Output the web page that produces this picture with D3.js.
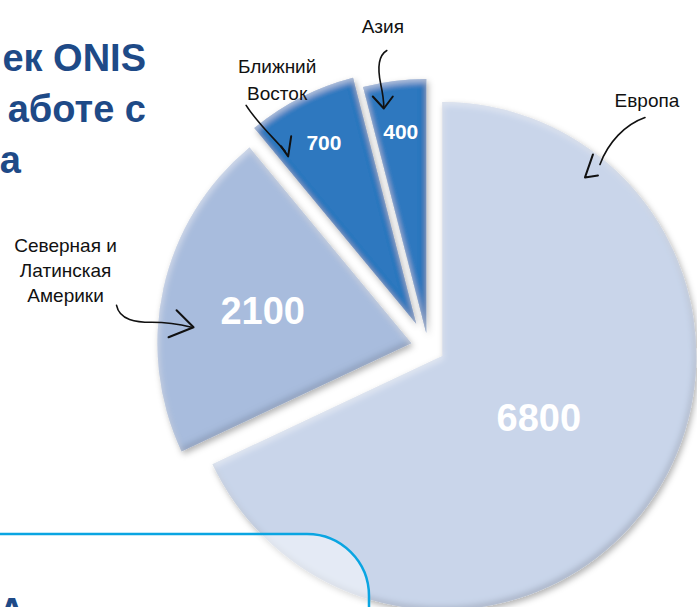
<!DOCTYPE html>
<html>
<head>
<meta charset="utf-8">
<script src="https://cdn.jsdelivr.net/npm/d3@7"></script>
<style>
  body { margin: 0; background: #fff; }
  svg { display: block; font-family: "Liberation Sans", Arial, sans-serif; }
</style>
</head>
<body>
<svg width="697" height="607"></svg>
<script>
// данные
var regions = ["Европа", "Северная и Латинская Америки", "Ближний Восток", "Азия"];
var values = [6800, 2100, 700, 400];
var labelLines = [["Европа"], ["Северная и", "Латинская", "Америки"], ["Ближний", "Восток"], ["Азия"]];
var titleLines = ["ек ONIS", "аботе с", "а"];

// оформление
var colors = ["#c9d5ea", "#a8bcdd", "#2f78bf", "#2f78bf"];
var explode = [17, 17, 26, 14];
var valueRadius = [0.45, 0.6, 0.8, 0.8];
var valueSize = [38, 38, 21, 21];
var cx = 428, cy = 347, R = 254;

var svg = d3.select("svg");
var defs = svg.append("defs");

// тень + фаска для секторов
var f = defs.append("filter").attr("id", "slice")
  .attr("x", "-20%").attr("y", "-20%").attr("width", "140%").attr("height", "140%");
f.append("feGaussianBlur").attr("in", "SourceAlpha").attr("stdDeviation", 3).attr("result", "b");
f.append("feOffset").attr("in", "b").attr("dx", -2).attr("dy", -3).attr("result", "o1");
f.append("feComposite").attr("in", "SourceAlpha").attr("in2", "o1").attr("operator", "out").attr("result", "in1");
f.append("feFlood").attr("flood-color", "#1a2a4a").attr("flood-opacity", 0.35);
f.append("feComposite").attr("in2", "in1").attr("operator", "in").attr("result", "dark");
f.append("feOffset").attr("in", "b").attr("dx", 1).attr("dy", 3).attr("result", "o2");
f.append("feComposite").attr("in", "SourceAlpha").attr("in2", "o2").attr("operator", "out").attr("result", "in2");
f.append("feFlood").attr("flood-color", "#ffffff").attr("flood-opacity", 0.45);
f.append("feComposite").attr("in2", "in2").attr("operator", "in").attr("result", "light");
f.append("feOffset").attr("in", "b").attr("dx", 2).attr("dy", 3).attr("result", "o3");
f.append("feFlood").attr("flood-color", "#000").attr("flood-opacity", 0.3);
f.append("feComposite").attr("in2", "o3").attr("operator", "in").attr("result", "drop");
var m = f.append("feMerge");
["drop", "SourceGraphic", "dark", "light"].forEach(function (n) { m.append("feMergeNode").attr("in", n); });

var pie = d3.pie().sort(null).value(function (d) { return d; });
var arcs = pie(values);
var arc = d3.arc().innerRadius(0).outerRadius(R);

function mid(a) { return (a.startAngle + a.endAngle) / 2; }
function polar(ang, r) { return [Math.sin(ang) * r, -Math.cos(ang) * r]; }

var slices = svg.append("g").selectAll("g")
  .data(arcs)
  .enter()
  .append("g")
  .attr("transform", function (d, i) {
    var p = polar(mid(d), explode[i]);
    return "translate(" + (cx + p[0]) + "," + (cy + p[1]) + ")";
  });

slices.append("path")
  .attr("d", arc)
  .attr("fill", function (d, i) { return colors[i]; })
  .attr("filter", "url(#slice)");

slices.append("text")
  .attr("x", function (d, i) { return polar(mid(d), R * valueRadius[i])[0]; })
  .attr("y", function (d, i) { return polar(mid(d), R * valueRadius[i])[1]; })
  .attr("dy", "0.36em")
  .attr("text-anchor", "middle")
  .attr("font-weight", "bold")
  .attr("font-size", function (d, i) { return valueSize[i]; })
  .attr("fill", "#fff")
  .text(function (d) { return d.data; });

// подписи со стрелками (положение относительно сектора)
var notes = [
  { ang: 38.6, r: 0.9, body: "M60,-60 C40,-53 23,-35 15,-13", head: "M8,-23 L0,0 L13,-2", lx: 62, ly: -70, lh: 25 },
  { ang: 274.2, r: 0.86, body: "M-77,-22 C-74,-7 -57,-5 -42,-5 C-27,-5 -14,-3 -2,0", head: "M-17,-17 L0,0 L-25,10", lx: -128, ly: -75, lh: 25 },
  { ang: 322.6, r: 0.83, body: "M-42,-51 C-32,-35 -17,-21 -3,-5", head: "M-7,-10 L0,0 L3,-20", lx: -11, ly: -83, lh: 27 },
  { ang: 349.3, r: 0.9, body: "M3,-58 C-7,-52 -6,-38 -3,-24 S0,-8 0,-1", head: "M-11,-12 L0,0 L9,-12", lx: -1, ly: -75, lh: 25 }
];

var ann = svg.append("g").selectAll("g")
  .data(arcs)
  .enter()
  .append("g")
  .attr("transform", function (d, i) {
    var e = polar(mid(d), explode[i]);
    var t = polar(notes[i].ang * Math.PI / 180, R * notes[i].r);
    return "translate(" + (cx + e[0] + t[0]) + "," + (cy + e[1] + t[1]) + ")";
  });

ann.append("path")
  .attr("d", function (d, i) { return notes[i].body; })
  .attr("fill", "none").attr("stroke", "#111").attr("stroke-width", 1.6).attr("stroke-linecap", "round");
ann.append("path")
  .attr("d", function (d, i) { return notes[i].head; })
  .attr("fill", "none").attr("stroke", "#111").attr("stroke-width", 2).attr("stroke-linecap", "round").attr("stroke-linejoin", "round");

ann.each(function (d, i) {
  var g = d3.select(this);
  labelLines[i].forEach(function (s, k) {
    g.append("text")
      .attr("x", notes[i].lx)
      .attr("y", notes[i].ly + k * notes[i].lh)
      .attr("text-anchor", "middle")
      .attr("font-size", 19)
      .attr("fill", "#111")
      .text(s);
  });
});

// заголовок (обрезан слева)
var title = svg.append("g");
titleLines.forEach(function (s, k) {
  title.append("text")
    .attr("x", k < 2 ? 146 : 21)
    .attr("y", 71 + k * 51)
    .attr("text-anchor", "end")
    .attr("font-weight", "bold")
    .attr("font-size", 38)
    .attr("fill", "#1e4a87")
    .text(s);
});

// рамка внизу
svg.append("rect")
  .attr("x", -100).attr("y", 534)
  .attr("width", 469).attr("height", 200)
  .attr("rx", 62)
  .attr("fill", "#fff").attr("fill-opacity", 0.5)
  .attr("stroke", "#0aa5e2").attr("stroke-width", 2.5);

svg.append("text")
  .attr("x", -2).attr("y", 625)
  .attr("font-weight", "bold")
  .attr("font-size", 38)
  .attr("fill", "#1e4a87")
  .text("А");
</script>
</body>
</html>
